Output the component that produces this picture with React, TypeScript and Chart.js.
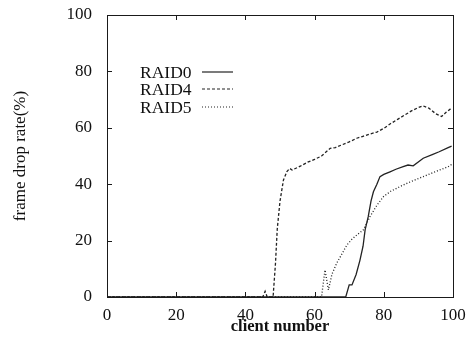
import React, { useEffect, useRef } from "react";
import { Chart, registerables } from "chart.js";

Chart.register(...registerables);

const seriesNames = ["RAID0", "RAID4", "RAID5"];

const raid0X = [0, 69, 70, 70.8, 72, 73.1, 74, 74.6, 75.5, 76.3, 77, 78, 78.9, 80, 81.8, 83.5, 85.6, 87, 88.5, 91.4, 94, 96, 98.6, 99.6];
const raid0Y = [0, 0, 4.3, 4.3, 8, 13, 18, 23.8, 28.5, 34, 37.3, 40, 42.7, 43.5, 44.4, 45.3, 46.2, 46.8, 46.5, 49.2, 50.5, 51.5, 53, 53.5];

const raid4X = [0, 45, 45.7, 46.3, 48, 48.7, 49.2, 50, 51, 52, 52.8, 53.5, 56, 58, 60, 62, 64.5, 66, 68, 70, 72.2, 74, 76, 78, 80, 82, 84, 86, 88, 90, 91.3, 93, 95, 96.7, 98, 99.6];
const raid4Y = [0, 0, 2, 0, 0, 12, 24, 34, 41.5, 44.5, 45.6, 45, 46.5, 47.8, 48.8, 50, 52.7, 53, 54, 55, 56.3, 57, 57.8, 58.5, 59.8, 61.5, 63, 64.5, 66, 67.2, 67.8, 67, 65, 64, 65.5, 67];

const raid5X = [0, 62, 63, 64, 65, 66.4, 68, 69.3, 70.8, 72.2, 74.1, 75, 76, 78, 79.9, 82, 85.6, 88, 91.4, 95, 98.6, 99.6];
const raid5Y = [0, 0, 9.6, 2.5, 8, 12, 15.5, 18.4, 20.5, 22, 23.8, 26, 28.5, 32.5, 35.6, 37.5, 39.7, 41, 42.7, 44.5, 46.2, 47];

const xTicks = [0, 20, 40, 60, 80, 100];
const yTicks = [0, 20, 40, 60, 80, 100];

const xTitle = "client number";
const yTitle = "frame drop rate(%)";

const dashes: number[][] = [[], [3, 2], [1, 2]];

const toPoints = (xs: number[], ys: number[]) => xs.map((x, i) => ({ x, y: ys[i] }));

const framePlugin = {
  id: "frameTicks",
  afterDatasetsDraw(chart: any) {
    const { ctx, chartArea: a, scales } = chart;
    ctx.save();
    ctx.strokeStyle = "#1a1a1a";
    ctx.lineWidth = 1;
    ctx.setLineDash([]);
    ctx.strokeRect(a.left + 0.5, a.top + 0.5, a.right - a.left, a.bottom - a.top);
    const len = 5;
    ctx.beginPath();
    xTicks.forEach((v) => {
      const px = Math.round(scales.x.getPixelForValue(v)) + 0.5;
      ctx.moveTo(px, a.bottom);
      ctx.lineTo(px, a.bottom - len);
      ctx.moveTo(px, a.top);
      ctx.lineTo(px, a.top + len);
    });
    yTicks.forEach((v) => {
      const py = Math.round(scales.y.getPixelForValue(v)) + 0.5;
      ctx.moveTo(a.left, py);
      ctx.lineTo(a.left + len, py);
      ctx.moveTo(a.right, py);
      ctx.lineTo(a.right - len, py);
    });
    ctx.stroke();

    // legend: label text on left, line sample on right
    ctx.font = "17.5px 'Liberation Serif'";
    ctx.fillStyle = "#111";
    ctx.textBaseline = "middle";
    ctx.textAlign = "left";
    const lx = 140;
    const sx0 = 202;
    const sx1 = 233;
    const ys = [73, 90, 108];
    chart.data.datasets.forEach((ds: any, i: number) => {
      ctx.fillText(ds.label, lx, ys[i]);
      ctx.beginPath();
      ctx.setLineDash(dashes[i]);
      ctx.strokeStyle = "#222";
      ctx.lineWidth = 1.2;
      ctx.moveTo(sx0, ys[i] - 1);
      ctx.lineTo(sx1, ys[i] - 1);
      ctx.stroke();
    });
    ctx.restore();
  },
};

export default function App() {
  const ref = useRef<HTMLCanvasElement>(null);
  useEffect(() => {
    if (!ref.current) return;
    const allX = [raid0X, raid4X, raid5X];
    const allY = [raid0Y, raid4Y, raid5Y];
    const chart = new Chart(ref.current, {
      type: "line",
      data: {
        datasets: seriesNames.map((name, i) => ({
          label: name,
          data: toPoints(allX[i], allY[i]),
          borderColor: "#222",
          borderWidth: 1.3,
          borderDash: dashes[i],
          pointRadius: 0,
          tension: 0,
          fill: false,
        })),
      },
      options: {
        animation: false,
        responsive: false,
        layout: { padding: { top: 15, right: 17, left: 0, bottom: 0 } },
        plugins: { legend: { display: false }, tooltip: { enabled: false } },
        scales: {
          x: {
            type: "linear",
            min: 0,
            max: 100,
            afterBuildTicks: (s: any) => { s.ticks = xTicks.map((v) => ({ value: v })); },
            grid: { display: false },
            border: { display: false },
            ticks: { color: "#111", font: { family: "'Liberation Serif'", size: 17 }, padding: 0, maxRotation: 0 },
            title: { display: true, text: xTitle, color: "#111", font: { family: "'Liberation Serif'", size: 16.5, weight: "bold" }, padding: { top: 0, bottom: 1 } },
            afterFit: (s: any) => { s.height = 41; s.paddingLeft = 0; s.paddingRight = 0; },
          },
          y: {
            type: "linear",
            min: 0,
            max: 100,
            afterBuildTicks: (s: any) => { s.ticks = yTicks.map((v) => ({ value: v })); },
            grid: { display: false },
            border: { display: false },
            ticks: { color: "#111", font: { family: "'Liberation Serif'", size: 17 }, padding: 7 },
            title: { display: true, text: yTitle, color: "#111", font: { family: "'Liberation Serif'", size: 17 }, padding: { top: 10, bottom: 0 } },
            afterFit: (s: any) => { s.width = 107; s.paddingTop = 0; s.paddingBottom = 0; },
          },
        },
      },
      plugins: [framePlugin],
    });
    return () => chart.destroy();
  }, []);
  return (
    <div style={{ position: "absolute", left: 0, top: 0, width: 470, height: 338, background: "#fff" }}>
      <canvas ref={ref} width={470} height={338} />
    </div>
  );
}
